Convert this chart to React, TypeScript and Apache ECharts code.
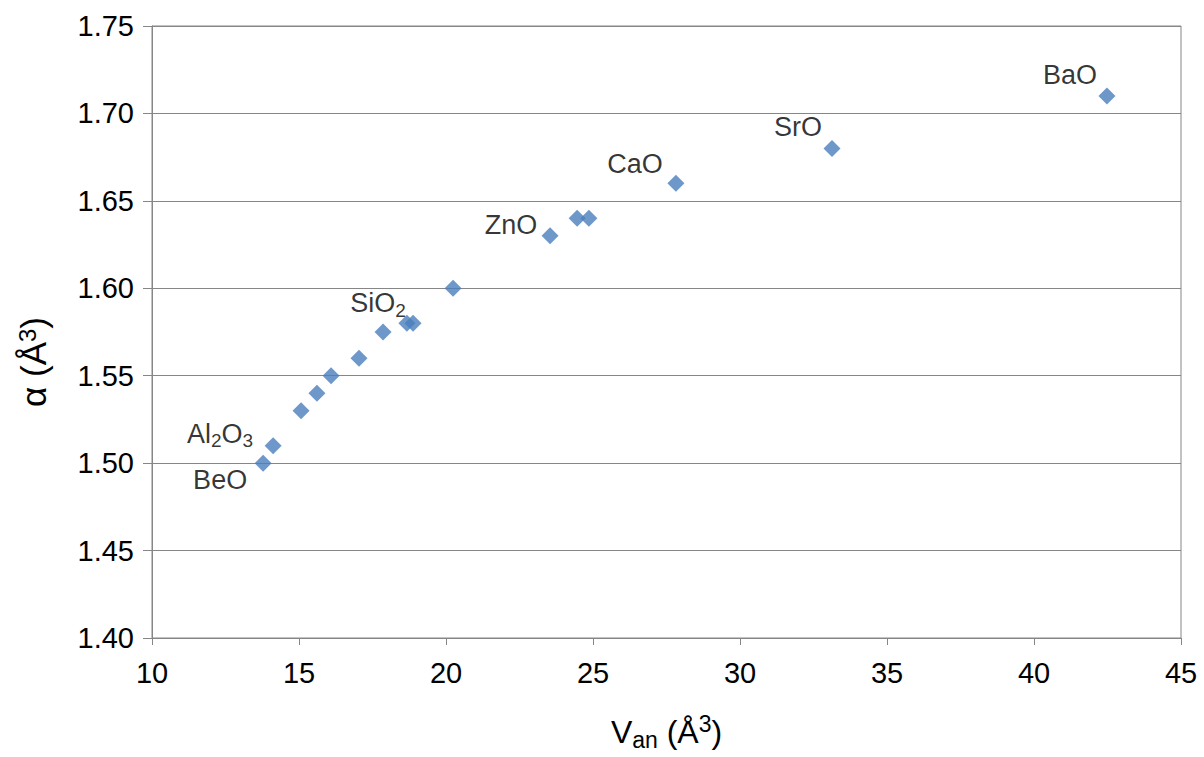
import React, { useEffect, useRef } from "react";
import * as echarts from "echarts";

// Data
const vAn = [13.78, 14.12, 15.07, 15.61, 16.09, 17.04, 17.86, 18.67, 18.88, 20.24, 23.54, 24.46, 24.86, 27.82, 33.13, 42.48];
const alpha = [1.5, 1.51, 1.53, 1.54, 1.55, 1.56, 1.575, 1.58, 1.58, 1.6, 1.63, 1.64, 1.64, 1.66, 1.68, 1.71];
const oxideLabels = ["BeO", "Al{s|2}O{s|3}", "", "", "", "", "", "", "SiO{s|2}", "", "ZnO", "", "", "CaO", "SrO", "BaO"];

const xTicks = { min: 10, max: 45, interval: 5 };
const yTicks = { min: 1.4, max: 1.75, interval: 0.05 };

// label placement (pixels relative to point)
const labelOffsets: Record<string, [number, number]> = {
  BeO: [-43, 17],
  "Al{s|2}O{s|3}": [-53, -12],
  "SiO{s|2}": [-35, -20],
  ZnO: [-39, -11],
  CaO: [-41, -19],
  SrO: [-34, -21],
  BaO: [-37, -21],
};

const FONT = "'Liberation Sans', Arial, sans-serif";

export default function App() {
  const ref = useRef<HTMLDivElement>(null);
  useEffect(() => {
    if (!ref.current) return;
    const chart = echarts.init(ref.current, null, { renderer: "svg" });
    const data = vAn.map((x, i) => {
      const lbl = oxideLabels[i];
      const item: any = { value: [x, alpha[i]] };
      if (lbl) {
        item.label = {
          show: true,
          position: "inside",
          offset: labelOffsets[lbl],
          formatter: lbl,
          color: "#000",
          fontFamily: FONT,
          fontSize: 27,
          align: "center",
          verticalAlign: "middle",
          rich: {
            s: { fontSize: 19, fontFamily: FONT, color: "#000", verticalAlign: "bottom", padding: [14, 0, 0, 0] },
          },
        };
      }
      return item;
    });
    chart.setOption({
      animation: false,
      backgroundColor: "#fff",
      grid: {
        left: 152,
        right: 23,
        top: 26,
        bottom: 119,
        show: true,
        borderColor: "#868686",
        borderWidth: 1,
        backgroundColor: "transparent",
      },
      xAxis: {
        type: "value",
        min: xTicks.min,
        max: xTicks.max,
        interval: xTicks.interval,
        axisLine: { show: true, lineStyle: { color: "#868686", width: 1 } },
        axisTick: { show: true, length: 7, lineStyle: { color: "#868686" } },
        splitLine: { show: false },
        axisLabel: { color: "#000", fontSize: 29, fontFamily: FONT, margin: 20 },
        name: "{m|V}{sub|an}{m| (Å}{sup|3}{m|)}",
        nameLocation: "middle",
        nameGap: 74,
        nameTextStyle: {
          fontFamily: FONT,
          rich: {
            m: { fontSize: 32, fontFamily: FONT, color: "#000" },
            sub: { fontSize: 23, fontFamily: FONT, color: "#000", verticalAlign: "bottom", padding: [16, 0, 0, 0] },
            sup: { fontSize: 23, fontFamily: FONT, color: "#000", verticalAlign: "top", padding: [0, 0, 12, 0] },
          },
        },
      },
      yAxis: {
        type: "value",
        min: yTicks.min,
        max: yTicks.max,
        interval: yTicks.interval,
        axisLine: { show: true, lineStyle: { color: "#868686", width: 1 } },
        axisTick: { show: true, length: 9, lineStyle: { color: "#868686" } },
        splitLine: { show: true, lineStyle: { color: "#868686", width: 1 } },
        axisLabel: {
          color: "#000",
          fontSize: 29,
          fontFamily: FONT,
          margin: 18,
          formatter: (v: number) => v.toFixed(2),
        },
        name: "{m|α (Å}{sup|3}{m|)}",
        nameLocation: "middle",
        nameGap: 100,
        nameRotate: 90,
        nameTextStyle: {
          fontFamily: FONT,
          padding: [0, 60, 0, 0],
          rich: {
            m: { fontSize: 35, fontFamily: FONT, color: "#000" },
            sup: { fontSize: 24, fontFamily: FONT, color: "#000", verticalAlign: "top", padding: [0, 0, 13, 0] },
          },
        },
      },
      series: [
        {
          type: "scatter",
          data,
          symbol: "diamond",
          symbolSize: [17, 17],
          itemStyle: { color: "#4a7ebb" },
        },
      ],
    });
    return () => chart.dispose();
  }, []);
  return (
    <div
      ref={ref}
      style={{ position: "fixed", left: 0, top: 0, width: 1204, height: 757, background: "#fff" }}
    />
  );
}
